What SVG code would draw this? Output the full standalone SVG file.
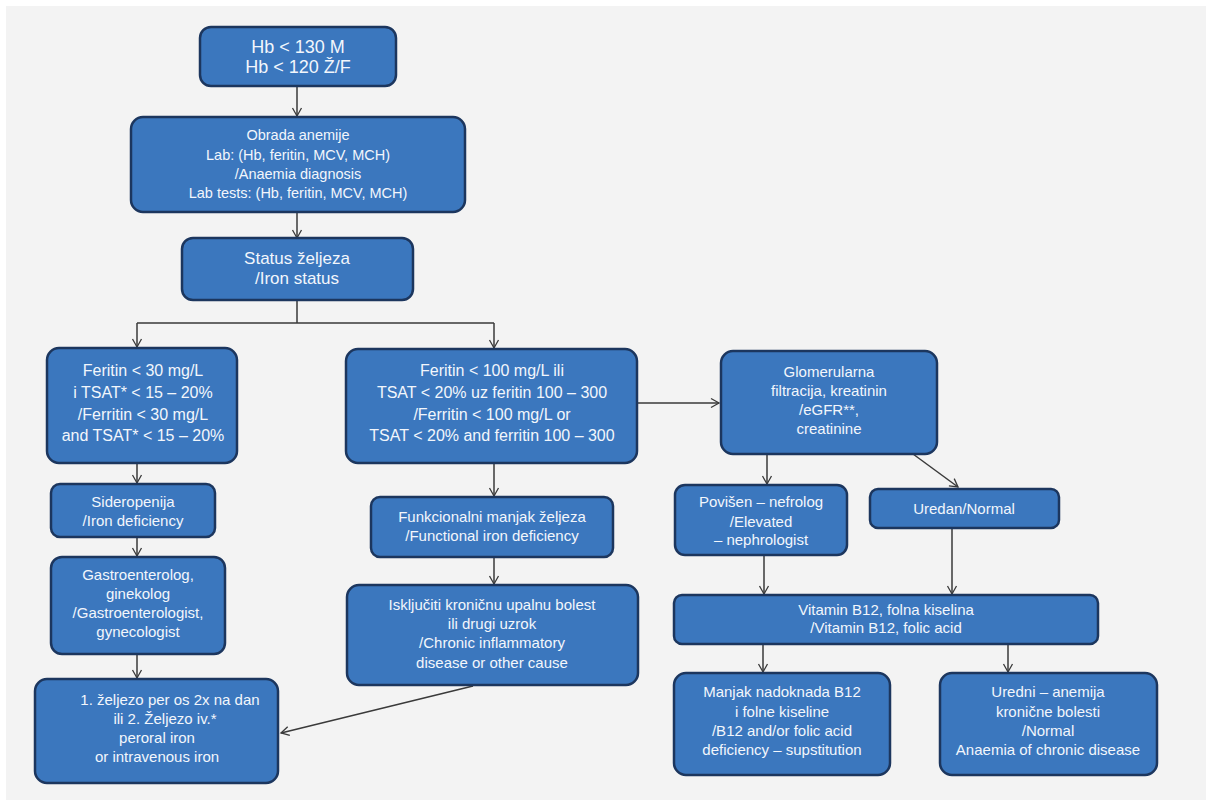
<svg xmlns="http://www.w3.org/2000/svg" width="1211" height="800" viewBox="0 0 1211 800">
<style>
.box{fill:#3b77be;stroke:#1c365e;stroke-width:2.5}
.t{font-family:"Liberation Sans",Arial,sans-serif;fill:#f2f6fc;text-anchor:middle;font-size:15px}
.c{fill:none;stroke:#3a3a3a;stroke-width:1.5}
</style>
<defs>
<marker id="ah" markerUnits="userSpaceOnUse" markerWidth="12" markerHeight="12" refX="10" refY="6" orient="auto">
<path d="M2,1.5 L10,6 L2,10.5" fill="none" stroke="#3a3a3a" stroke-width="1.3"/>
</marker>
</defs>
<rect x="0" y="0" width="1211" height="800" fill="#ffffff"/>
<rect x="6" y="6" width="1200" height="794" fill="#f3f3f3"/>
<g id="connectors">
<path class="c" d="M297,86 V116" marker-end="url(#ah)"/>
<path class="c" d="M297,213 V238" marker-end="url(#ah)"/>
<path class="c" d="M297,300 V323 M137,323 H494"/>
<path class="c" d="M137,323 V347" marker-end="url(#ah)"/>
<path class="c" d="M494,323 V348" marker-end="url(#ah)"/>
<path class="c" d="M137,463 V483" marker-end="url(#ah)"/>
<path class="c" d="M137,537 V556" marker-end="url(#ah)"/>
<path class="c" d="M137,654 V678" marker-end="url(#ah)"/>
<path class="c" d="M494,463 V496" marker-end="url(#ah)"/>
<path class="c" d="M494,557 V584" marker-end="url(#ah)"/>
<path class="c" d="M473,686 L281,733" marker-end="url(#ah)"/>
<path class="c" d="M637,403 H719" marker-end="url(#ah)"/>
<path class="c" d="M767,454 V484" marker-end="url(#ah)"/>
<path class="c" d="M913,454 L958,487" marker-end="url(#ah)"/>
<path class="c" d="M764,555 V594" marker-end="url(#ah)"/>
<path class="c" d="M952,528 V594" marker-end="url(#ah)"/>
<path class="c" d="M763,644 V672" marker-end="url(#ah)"/>
<path class="c" d="M1008,644 V672" marker-end="url(#ah)"/>
</g>
<g id="hb">
<rect class="box" x="200" y="27" width="196" height="59" rx="11"/>
<text class="t" style="font-size:18px" x="298" y="53">Hb &lt; 130 M</text>
<text class="t" style="font-size:18px" x="298" y="73">Hb &lt; 120 Ž/F</text>
</g>
<g id="obrada">
<rect class="box" x="131" y="117" width="334" height="95" rx="12"/>
<text class="t" style="font-size:14.5px" x="298" y="140">Obrada anemije</text>
<text class="t" style="font-size:14.5px" x="298" y="160">Lab: (Hb, feritin, MCV, MCH)</text>
<text class="t" style="font-size:14.5px" x="298" y="179">/Anaemia diagnosis</text>
<text class="t" style="font-size:14.5px" x="298" y="198">Lab tests: (Hb, feritin, MCV, MCH)</text>
</g>
<g id="status">
<rect class="box" x="182" y="238" width="231" height="62" rx="11"/>
<text class="t" style="font-size:17px" x="297" y="264">Status željeza</text>
<text class="t" style="font-size:17px" x="297" y="284">/Iron status</text>
</g>
<g id="fer30">
<rect class="box" x="47" y="348" width="190" height="115" rx="12"/>
<text class="t" style="font-size:16px" x="143" y="376">Feritin &lt; 30 mg/L</text>
<text class="t" style="font-size:16px" x="143" y="398">i TSAT* &lt; 15 – 20%</text>
<text class="t" style="font-size:16px" x="143" y="420">/Ferritin &lt; 30 mg/L</text>
<text class="t" style="font-size:16px" x="143" y="441">and TSAT* &lt; 15 – 20%</text>
</g>
<g id="fer100">
<rect class="box" x="346" y="349" width="291" height="114" rx="12"/>
<text class="t" style="font-size:16px" x="492" y="376">Feritin &lt; 100 mg/L ili</text>
<text class="t" style="font-size:16px" x="492" y="398">TSAT &lt; 20% uz feritin 100 – 300</text>
<text class="t" style="font-size:16px" x="492" y="420">/Ferritin &lt; 100 mg/L or</text>
<text class="t" style="font-size:16px" x="492" y="441">TSAT &lt; 20% and ferritin 100 – 300</text>
</g>
<g id="glom">
<rect class="box" x="721" y="351" width="216" height="103" rx="12"/>
<text class="t" x="829" y="377">Glomerularna</text>
<text class="t" x="829" y="396">filtracija, kreatinin</text>
<text class="t" x="829" y="415">/eGFR**,</text>
<text class="t" x="829" y="434">creatinine</text>
</g>
<g id="sidero">
<rect class="box" x="51" y="484" width="164" height="53" rx="9"/>
<text class="t" x="133" y="507">Sideropenija</text>
<text class="t" x="133" y="526">/Iron deficiency</text>
</g>
<g id="gastro">
<rect class="box" x="51" y="557" width="174" height="97" rx="11"/>
<text class="t" x="138" y="580">Gastroenterolog,</text>
<text class="t" x="138" y="599">ginekolog</text>
<text class="t" x="138" y="618">/Gastroenterologist,</text>
<text class="t" x="138" y="637">gynecologist</text>
</g>
<g id="zeljezo">
<rect class="box" x="35" y="679" width="243" height="104" rx="12"/>
<text class="t" x="170" y="705">1. željezo per os 2x na dan</text>
<text class="t" x="165" y="724">ili 2. Željezo iv.*</text>
<text class="t" x="157" y="743">peroral iron</text>
<text class="t" x="157" y="762">or intravenous iron</text>
</g>
<g id="funk">
<rect class="box" x="371" y="497" width="242" height="60" rx="9"/>
<text class="t" x="492" y="522">Funkcionalni manjak željeza</text>
<text class="t" x="492" y="541">/Functional iron deficiency</text>
</g>
<g id="iskl">
<rect class="box" x="347" y="585" width="291" height="100" rx="12"/>
<text class="t" x="492" y="610">Isključiti kroničnu upalnu bolest</text>
<text class="t" x="492" y="629">ili drugi uzrok</text>
<text class="t" x="492" y="648">/Chronic inflammatory</text>
<text class="t" x="492" y="668">disease or other cause</text>
</g>
<g id="povisen">
<rect class="box" x="675" y="485" width="172" height="70" rx="10"/>
<text class="t" x="761" y="507">Povišen – nefrolog</text>
<text class="t" x="761" y="527">/Elevated</text>
<text class="t" x="761" y="545">– nephrologist</text>
</g>
<g id="uredan">
<rect class="box" x="870" y="489" width="189" height="39" rx="8"/>
<text class="t" x="964" y="514">Uredan/Normal</text>
</g>
<g id="vitamin">
<rect class="box" x="674" y="595" width="424" height="49" rx="8"/>
<text class="t" x="886" y="615">Vitamin B12, folna kiselina</text>
<text class="t" x="886" y="633">/Vitamin B12, folic acid</text>
</g>
<g id="manjak">
<rect class="box" x="674" y="673" width="216" height="102" rx="12"/>
<text class="t" x="782" y="697">Manjak nadoknada B12</text>
<text class="t" x="782" y="717">i folne kiseline</text>
<text class="t" x="782" y="736">/B12 and/or folic acid</text>
<text class="t" x="782" y="755">deficiency – supstitution</text>
</g>
<g id="uredni">
<rect class="box" x="940" y="673" width="217" height="102" rx="12"/>
<text class="t" x="1048" y="697">Uredni – anemija</text>
<text class="t" x="1048" y="717">kronične bolesti</text>
<text class="t" x="1048" y="736">/Normal</text>
<text class="t" x="1048" y="755">Anaemia of chronic disease</text>
</g>
</svg>
